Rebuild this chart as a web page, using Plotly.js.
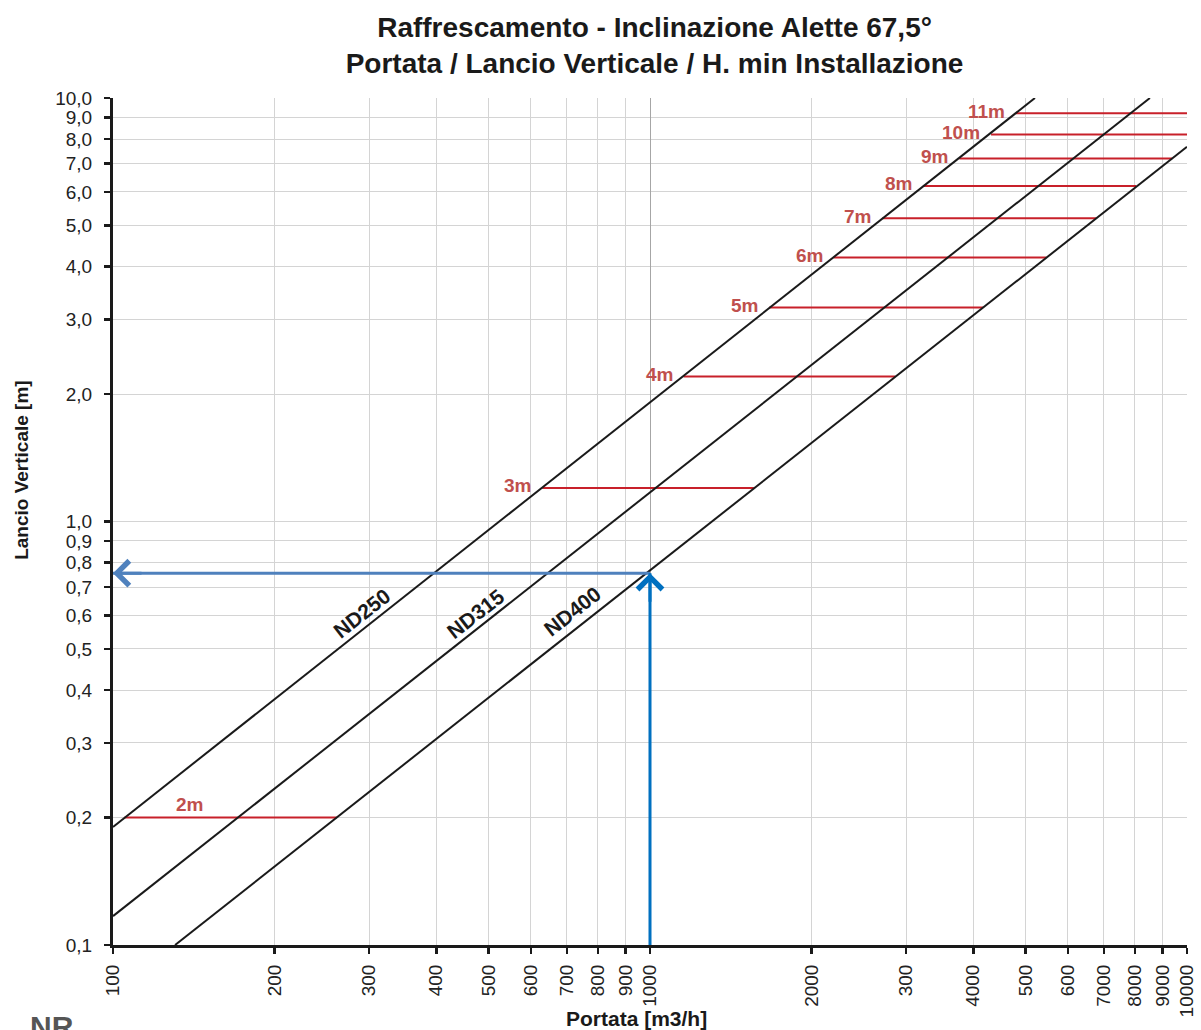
<!DOCTYPE html>
<html>
<head>
<meta charset="utf-8">
<script src="https://cdn.plot.ly/plotly-3.0.1.min.js"></script>
<style>html,body{margin:0;padding:0;background:#fff;}#chart{width:1201px;height:1030px;}</style>
</head>
<body>
<div id="chart"></div>
<script>
// ---- data ----
const ndNames = ['ND250', 'ND315', 'ND400'];
const nd250X = [100, 5210];
const nd250Y = [0.19, 10];
const nd315X = [100, 8530];
const nd315Y = [0.117, 10];
const nd400X = [130.5, 10000];
const nd400Y = [0.1, 7.67];
const ndLabelX = [290, 474, 716];
const ndLabelY = [0.608, 0.605, 0.612];

const hMinLabels = ['2m', '3m', '4m', '5m', '6m', '7m', '8m', '9m', '10m', '11m'];
const hMinY = [0.2, 1.2, 2.2, 3.2, 4.2, 5.2, 6.2, 7.2, 8.2, 9.2];
const hMinXStart = [105, 630, 1155, 1668, 2197, 2709, 3223, 3768, 4316, 4800];
const hMinXEnd = [261, 1561, 2864, 4172, 5472, 6777, 8045, 9386, 10000, 10000];
const hMin2mLabelX = 139;

const exampleX = [100, 1000, 1000];
const exampleY = [0.755, 0.755, 0.1];

const xTickVals = [100, 200, 300, 400, 500, 600, 700, 800, 900, 1000, 2000, 3000, 4000, 5000, 6000, 7000, 8000, 9000, 10000];
const xTickText = ['100', '200', '300', '400', '500', '600', '700', '800', '900', '1000', '2000', '300', '4000', '500', '600', '7000', '8000', '9000', '10000'];
const yTickVals = [0.1, 0.2, 0.3, 0.4, 0.5, 0.6, 0.7, 0.8, 0.9, 1, 2, 3, 4, 5, 6, 7, 8, 9, 10];
const yTickText = ['0,1', '0,2', '0,3', '0,4', '0,5', '0,6', '0,7', '0,8', '0,9', '1,0', '2,0', '3,0', '4,0', '5,0', '6,0', '7,0', '8,0', '9,0', '10,0'];

// ---- styling ----
const FONT = 'Liberation Sans, Arial, Helvetica, sans-serif';
const RED_LINE = '#c8202a';
const RED_TEXT = '#c0504d';
const BLUE_H = '#4f81bd';
const BLUE_V = '#0070c0';

const traces = [];
const ndX = [nd250X, nd315X, nd400X];
const ndY = [nd250Y, nd315Y, nd400Y];

// red H. min lines
for (let i = 0; i < hMinY.length; i++) {
  traces.push({
    x: [hMinXStart[i], hMinXEnd[i]], y: [hMinY[i], hMinY[i]],
    mode: 'lines', line: {color: RED_LINE, width: 2},
    hoverinfo: 'skip', showlegend: false
  });
}
// diffuser lines
for (let i = 0; i < ndNames.length; i++) {
  traces.push({
    x: ndX[i], y: ndY[i], name: ndNames[i],
    mode: 'lines', line: {color: '#1a1a1a', width: 2},
    showlegend: false
  });
}
// example reading (blue)
traces.push({x: exampleX.slice(0, 2), y: exampleY.slice(0, 2), mode: 'lines', line: {color: BLUE_H, width: 3}, showlegend: false, hoverinfo: 'skip'});
traces.push({x: exampleX.slice(1, 3), y: exampleY.slice(1, 3), mode: 'lines', line: {color: BLUE_V, width: 3}, showlegend: false, hoverinfo: 'skip'});

const L = Math.log10;
const annotations = [];
// ND labels
for (let i = 0; i < ndNames.length; i++) {
  annotations.push({
    x: L(ndLabelX[i]), y: L(ndLabelY[i]), xref: 'x', yref: 'y',
    text: ndNames[i], showarrow: false, textangle: -38,
    font: {family: FONT, size: 21, color: '#1a1a1a', weight: 'bold'}
  });
}
// H. min labels
for (let i = 0; i < hMinLabels.length; i++) {
  if (i === 0) {
    annotations.push({
      x: L(hMin2mLabelX), y: L(hMinY[i]), xref: 'x', yref: 'y', yshift: 13,
      text: hMinLabels[i], showarrow: false, xanchor: 'center', yanchor: 'middle',
      font: {family: FONT, size: 19, color: RED_TEXT, weight: 'bold'}
    });
  } else {
    annotations.push({
      x: L(hMinXStart[i]), y: L(hMinY[i]), xref: 'x', yref: 'y', xshift: -9, yshift: 2,
      text: hMinLabels[i], showarrow: false, xanchor: 'right', yanchor: 'middle',
      font: {family: FONT, size: 19, color: RED_TEXT, weight: 'bold'}
    });
  }
}
// arrowheads
annotations.push({x: L(exampleX[0]), y: L(exampleY[0]), xref: 'x', yref: 'y', ax: 30, ay: 0,
  text: '', showarrow: true, arrowhead: 4, arrowsize: 1.6, arrowwidth: 3, arrowcolor: BLUE_H});
annotations.push({x: L(exampleX[1]), y: L(exampleY[1]), xref: 'x', yref: 'y', ax: 0, ay: 30,
  text: '', showarrow: true, arrowhead: 4, arrowsize: 1.6, arrowwidth: 3, arrowcolor: BLUE_V});
// axis titles
annotations.push({xref: 'paper', yref: 'paper', x: -0.0847, y: 0.561, text: 'Lancio Verticale [m]',
  textangle: -90, showarrow: false, xanchor: 'center', yanchor: 'middle',
  font: {family: FONT, size: 19, color: '#1a1a1a', weight: 'bold'}});
annotations.push({xref: 'paper', yref: 'paper', x: 0.487, y: -0.0862, text: 'Portata [m3/h]',
  showarrow: false, xanchor: 'center', yanchor: 'middle',
  font: {family: FONT, size: 21, color: '#1a1a1a', weight: 'bold'}});
// partial logo
annotations.push({xref: 'paper', yref: 'paper', x: -0.0568, y: -0.074, text: 'NR',
  showarrow: false, xanchor: 'center', yanchor: 'top',
  font: {family: FONT, size: 30, color: '#555555', weight: 'bold'}});

const axisCommon = {
  type: 'log', showgrid: true, gridcolor: '#d4d4d4', gridwidth: 1,
  showline: true, linecolor: '#1a1a1a', linewidth: 3,
  ticks: 'outside', ticklen: 6, tickwidth: 2.5, tickcolor: '#1a1a1a',
  tickfont: {family: FONT, size: 19, color: '#222'}, zeroline: false, fixedrange: true
};

const layout = {
  width: 1201, height: 1030,
  margin: {l: 113, r: 14, t: 98, b: 85},
  paper_bgcolor: '#ffffff', plot_bgcolor: '#ffffff',
  title: {
    text: 'Raffrescamento - Inclinazione Alette 67,5°<br>Portata / Lancio Verticale / H. min Installazione',
    font: {family: FONT, size: 28, color: '#1a1a1a', weight: 'bold'},
    x: 0.545, xanchor: 'center', xref: 'container',
    y: 0.9645, yanchor: 'top', yref: 'container'
  },
  xaxis: Object.assign({}, axisCommon, {
    range: [2, 4], tickmode: 'array', tickvals: xTickVals, ticktext: xTickText, tickangle: -90,
    ticklabelstandoff: 3
  }),
  xaxis2: {
    type: 'log', range: [2, 4], overlaying: 'x', anchor: 'y', tickmode: 'array', tickvals: [1000],
    showticklabels: false, showgrid: true, gridcolor: '#a6a6a6', gridwidth: 1, showline: false, ticks: '', zeroline: false
  },
  yaxis: Object.assign({}, axisCommon, {
    range: [-1, 1], tickmode: 'array', tickvals: yTickVals, ticktext: yTickText,
    ticklabelstandoff: 8
  }),
  annotations: annotations,
  showlegend: false
};

traces.push({x: [1000], y: [1], xaxis: 'x2', yaxis: 'y', mode: 'markers', marker: {opacity: 0}, hoverinfo: 'skip', showlegend: false});

Plotly.newPlot('chart', traces, layout, {displayModeBar: false, staticPlot: true});
</script>
</body>
</html>
